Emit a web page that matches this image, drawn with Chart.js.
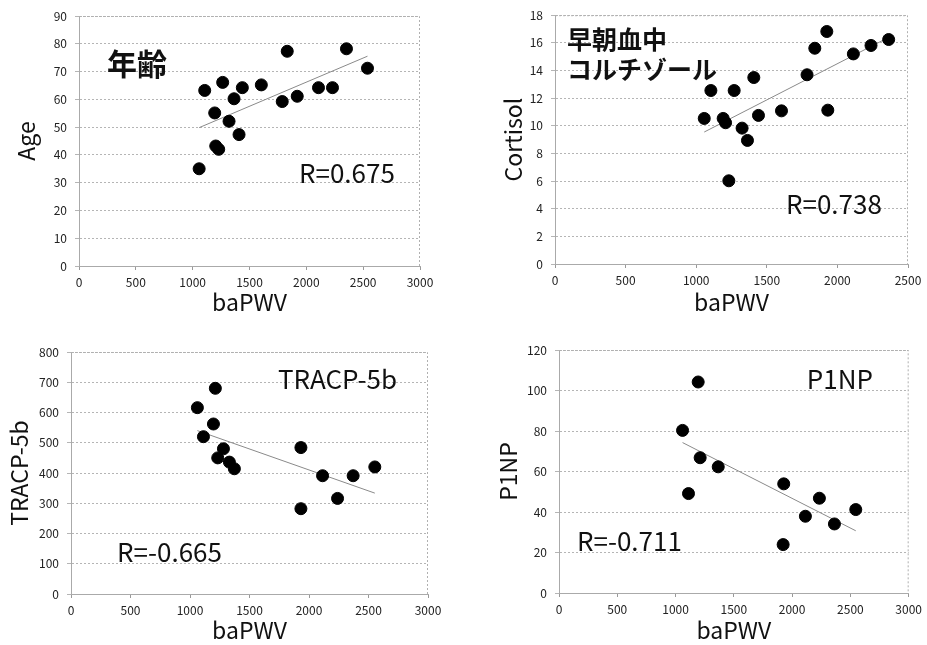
<!DOCTYPE html>
<html>
<head>
<meta charset="utf-8">
<script src="https://cdn.jsdelivr.net/npm/chart.js@4.4.0/dist/chart.umd.min.js"></script>
<style>
  body { margin: 0; background: #fff; }
  .panel { position: absolute; }
</style>
</head>
<body>
<div class="panel" style="left:0;top:0"><canvas id="c1" width="460" height="320"></canvas></div>
<div class="panel" style="left:460px;top:0"><canvas id="c2" width="467" height="320"></canvas></div>
<div class="panel" style="left:0;top:320px"><canvas id="c3" width="460" height="325"></canvas></div>
<div class="panel" style="left:460px;top:320px"><canvas id="c4" width="467" height="325"></canvas></div>
<script>
// 年齢 vs baPWV
const ageX = [1057, 1106, 1194, 1203, 1229, 1264, 1320, 1364, 1408, 1437, 1604, 1788, 1832, 1920, 2107, 2230, 2353, 2538];
const ageY = [35, 63.2, 55.1, 43.2, 42, 66.1, 52.1, 60.2, 47.3, 64.2, 65.2, 59.2, 77.3, 61.1, 64.2, 64.2, 78.2, 71.2];

// 早朝血中コルチゾール vs baPWV
const cortX = [1057, 1104, 1191, 1208, 1231, 1269, 1325, 1363, 1408, 1441, 1604, 1785, 1840, 1925, 1932, 2113, 2238, 2363];
const cortY = [10.53, 12.55, 10.53, 10.22, 6.02, 12.55, 9.83, 8.94, 13.49, 10.75, 11.08, 13.69, 15.61, 16.82, 11.13, 15.2, 15.81, 16.24];

// TRACP-5b vs baPWV
const tracpX = [1062, 1113, 1197, 1213, 1233, 1281, 1331, 1373, 1932, 1932, 2114, 2240, 2371, 2553];
const tracpY = [616, 520, 562, 680, 450, 480, 436, 414, 484, 282, 391, 316, 391, 420];

// P1NP vs baPWV
const p1npX = [1060, 1111, 1194, 1211, 1366, 1923, 1928, 2114, 2234, 2363, 2546];
const p1npY = [80.3, 49.1, 104.2, 66.8, 62.3, 23.9, 53.9, 37.9, 46.8, 34.1, 41.2];

const FONT = "'Noto Sans CJK JP', 'Noto Sans', sans-serif";

function pairs(xs, ys) {
  return xs.map((x, i) => ({ x: x, y: ys[i] }));
}

// linear least squares trend line from min x to max x
function trend(xs, ys) {
  const n = xs.length;
  const mx = xs.reduce((a, b) => a + b, 0) / n;
  const my = ys.reduce((a, b) => a + b, 0) / n;
  let sxy = 0, sxx = 0;
  for (let i = 0; i < n; i++) {
    sxy += (xs[i] - mx) * (ys[i] - my);
    sxx += (xs[i] - mx) * (xs[i] - mx);
  }
  const b = sxy / sxx;
  const a = my - b * mx;
  const x0 = Math.min(...xs), x1 = Math.max(...xs);
  return [{ x: x0, y: a + b * x0 }, { x: x1, y: a + b * x1 }];
}

// text labels placed in data units
const labelPlugin = {
  id: "labels",
  afterDatasetsDraw(chart, args, opts) {
    const ctx = chart.ctx;
    const xs = chart.scales.x, ys = chart.scales.y;
    ctx.save();
    ctx.fillStyle = "#111";
    ctx.textAlign = "left";
    ctx.textBaseline = "middle";
    (opts.items || []).forEach(it => {
      ctx.font = it.font;
      ctx.fillText(it.text, xs.getPixelForValue(it.x), ys.getPixelForValue(it.y));
    });
    ctx.restore();
  }
};

const plain = v => String(v);

function makeChart(id, xs, ys, cfg) {
  return new Chart(document.getElementById(id), {
    type: "scatter",
    data: {
      datasets: [
        {
          data: pairs(xs, ys),
          backgroundColor: "#000",
          borderColor: "#000",
          pointRadius: 6,
          pointHoverRadius: 6
        },
        {
          type: "line",
          data: trend(xs, ys),
          borderColor: "#8a8a8a",
          borderWidth: 1,
          pointRadius: 0,
          fill: false
        }
      ]
    },
    options: {
      responsive: false,
      animation: false,
      layout: { padding: cfg.padding },
      plugins: {
        legend: { display: false },
        tooltip: { enabled: false },
        labels: { items: cfg.labels }
      },
      scales: {
        x: {
          type: "linear",
          min: 0,
          max: cfg.xMax,
          afterFit: s => { s.height = cfg.xH; },
          ticks: { stepSize: 500, padding: 5, color: "#222", font: { family: FONT, size: 12 }, callback: plain },
          grid: { display: true, drawOnChartArea: false, tickLength: 4, color: "#999" },
          border: { color: "#aaa", dash: [2, 2] },
          title: { display: true, text: "baPWV", color: "#111", font: { family: FONT, size: 23 }, padding: { top: 0, bottom: cfg.xTitlePad } }
        },
        y: {
          min: 0,
          max: cfg.yMax,
          afterFit: s => { s.width = cfg.yW; },
          ticks: { stepSize: cfg.yStep, padding: 8, color: "#222", font: { family: FONT, size: 12 }, callback: plain },
          grid: { color: "#b5b5b5", tickLength: 4 },
          border: { color: "#aaa", dash: [2, 2] },
          title: { display: true, text: cfg.yTitle, color: "#111", font: { family: FONT, size: 23 }, padding: { top: cfg.yTitlePad, bottom: 0 } }
        }
      }
    },
    plugins: [labelPlugin, {
      id: "frame",
      beforeDatasetsDraw(chart) {
        const a = chart.chartArea, ctx = chart.ctx;
        ctx.save();
        ctx.strokeStyle = "#b0b0b0";
        ctx.setLineDash([2, 2]);
        ctx.lineWidth = 1;
        ctx.beginPath();
        ctx.moveTo(a.left, a.top + 0.5);
        ctx.lineTo(a.right - 0.5, a.top + 0.5);
        ctx.lineTo(a.right - 0.5, a.bottom);
        ctx.stroke();
        ctx.restore();
      }
    }]
  });
}

const bigFont = "26px " + FONT;
const jpFont = "bold 25px " + FONT;

makeChart("c1", ageX, ageY, {
  padding: { left: 0, top: 16, right: 40, bottom: 0 },
  xMax: 3000, yMax: 90, yStep: 10, yW: 79, xH: 54, xTitlePad: 4, yTitlePad: 12,
  yTitle: "Age",
  labels: [
    { text: "年齢", x: 246, y: 72.7, font: "bold 30px " + FONT },
    { text: "R=0.675", x: 1935, y: 33.5, font: bigFont }
  ]
});

makeChart("c2", cortX, cortY, {
  padding: { left: 0, top: 15, right: 19, bottom: 0 },
  xMax: 2500, yMax: 18, yStep: 2, yW: 95, xH: 56, xTitlePad: 4, yTitlePad: 39,
  yTitle: "Cortisol",
  labels: [
    { text: "早朝血中", x: 85, y: 16.27, font: jpFont },
    { text: "コルチゾール", x: 85, y: 14.1, font: jpFont },
    { text: "R=0.738", x: 1636, y: 4.34, font: bigFont }
  ]
});

makeChart("c3", tracpX, tracpY, {
  padding: { left: 0, top: 32, right: 32, bottom: 0 },
  xMax: 3000, yMax: 800, yStep: 100, yW: 71, xH: 51, xTitlePad: 1, yTitlePad: 5,
  yTitle: "TRACP-5b",
  labels: [
    { text: "TRACP-5b", x: 1739, y: 711, font: bigFont },
    { text: "R=-0.665", x: 387, y: 137, font: bigFont }
  ]
});

makeChart("c4", p1npX, p1npY, {
  padding: { left: 0, top: 30, right: 18, bottom: 0 },
  xMax: 3000, yMax: 120, yStep: 20, yW: 99, xH: 52, xTitlePad: 1, yTitlePad: 34,
  yTitle: "P1NP",
  labels: [
    { text: "P1NP", x: 2126, y: 105.7, font: bigFont },
    { text: "R=-0.711", x: 154, y: 25.7, font: bigFont }
  ]
});
</script>
</body>
</html>
